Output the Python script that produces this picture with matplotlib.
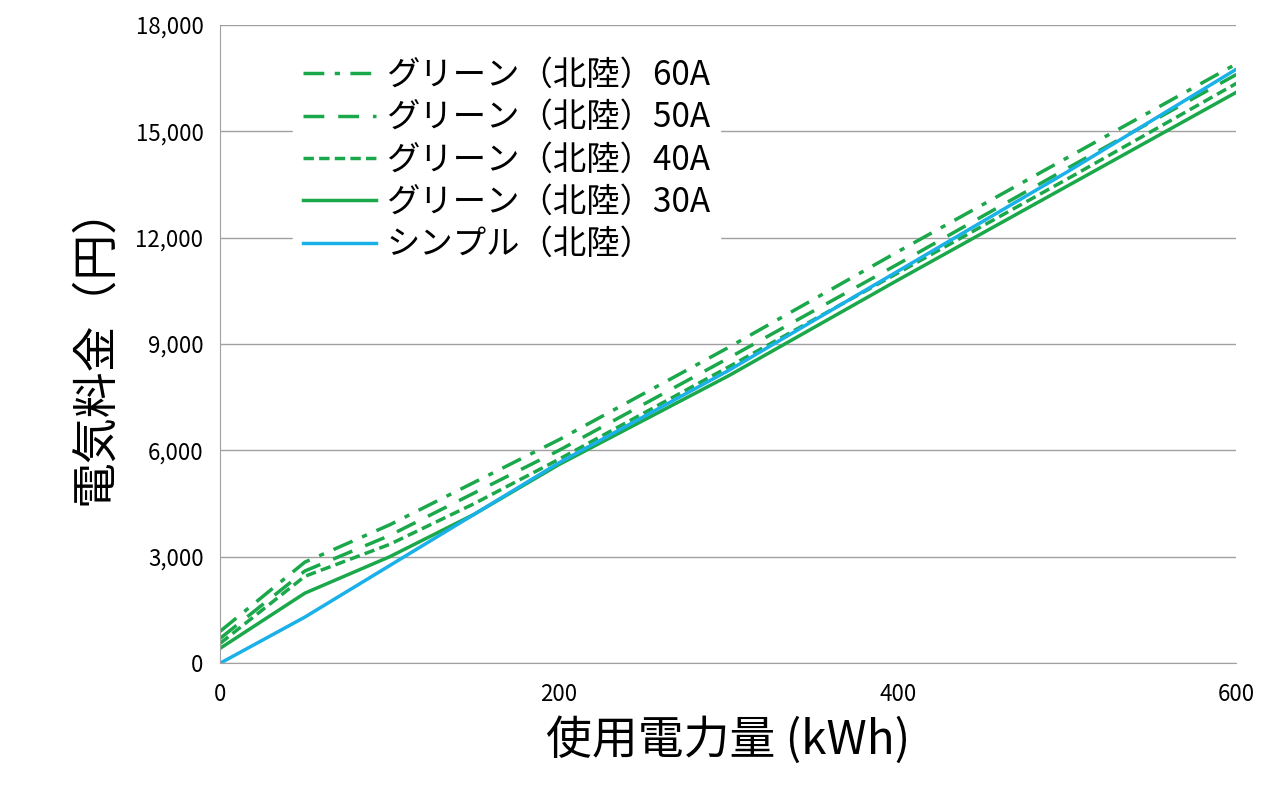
import matplotlib.pyplot as plt

plt.rcParams['font.family'] = ['Noto Sans CJK JP', 'DejaVu Sans']

kwh = [0, 50, 100, 150, 200, 300, 400, 500, 600]
green60 = [900, 2850, 3900, 5100, 6300, 8900, 11600, 14250, 16900]
green50 = [700, 2600, 3600, 4800, 6000, 8600, 11250, 13950, 16600]
green40 = [560, 2450, 3350, 4500, 5750, 8350, 11000, 13650, 16350]
green30 = [420, 1975, 3000, 4200, 5600, 8100, 10800, 13450, 16100]
simple = [0, 1300, 2750, 4200, 5650, 8250, 11050, 13850, 16750]

green = '#1aa84a'
blue = '#1ab0e8'

fig = plt.figure(figsize=(12.8, 8), dpi=100)
ax = fig.add_axes([0.172, 0.171, 0.794, 0.798])

ax.plot(kwh, green60, color=green, lw=2.5, ls=(0, (6, 3, 1.5, 3)), label='グリーン（北陸）60A')
ax.plot(kwh, green50, color=green, lw=2.5, ls=(0, (6, 4)), label='グリーン（北陸）50A')
ax.plot(kwh, green40, color=green, lw=2.5, ls=(0, (3, 1.5)), label='グリーン（北陸）40A')
ax.plot(kwh, green30, color=green, lw=2.5, label='グリーン（北陸）30A')
ax.plot(kwh, simple, color=blue, lw=2.5, label='シンプル（北陸）')

ax.set_xlim(0, 600)
ax.set_ylim(0, 18000)
ax.set_xticks([0, 200, 400, 600])
ax.set_yticks(range(0, 18001, 3000))
ax.set_yticklabels([f'{v:,}' for v in range(0, 18001, 3000)])
ax.tick_params(labelsize=16, length=0)
ax.tick_params(axis='x', pad=14)
ax.tick_params(axis='y', pad=12)
ax.grid(axis='y', color='#a0a0a0', lw=1)
ax.set_axisbelow(True)
for s in ['top', 'right']:
    ax.spines[s].set_visible(False)
ax.spines['left'].set_color('#a0a0a0')
ax.spines['bottom'].set_color('#a0a0a0')

ax.set_xlabel('使用電力量 (kWh)', fontsize=33, labelpad=8)
ax.set_ylabel('電気料金（円）', fontsize=33, labelpad=12)

leg = ax.legend(loc='upper left', bbox_to_anchor=(0.055, 0.99), fontsize=24, frameon=True,
                fancybox=False, edgecolor='white', framealpha=1, handlelength=2.2,
                handletextpad=0.3, labelspacing=0.22, borderpad=0.3)

plt.savefig('out.png')
